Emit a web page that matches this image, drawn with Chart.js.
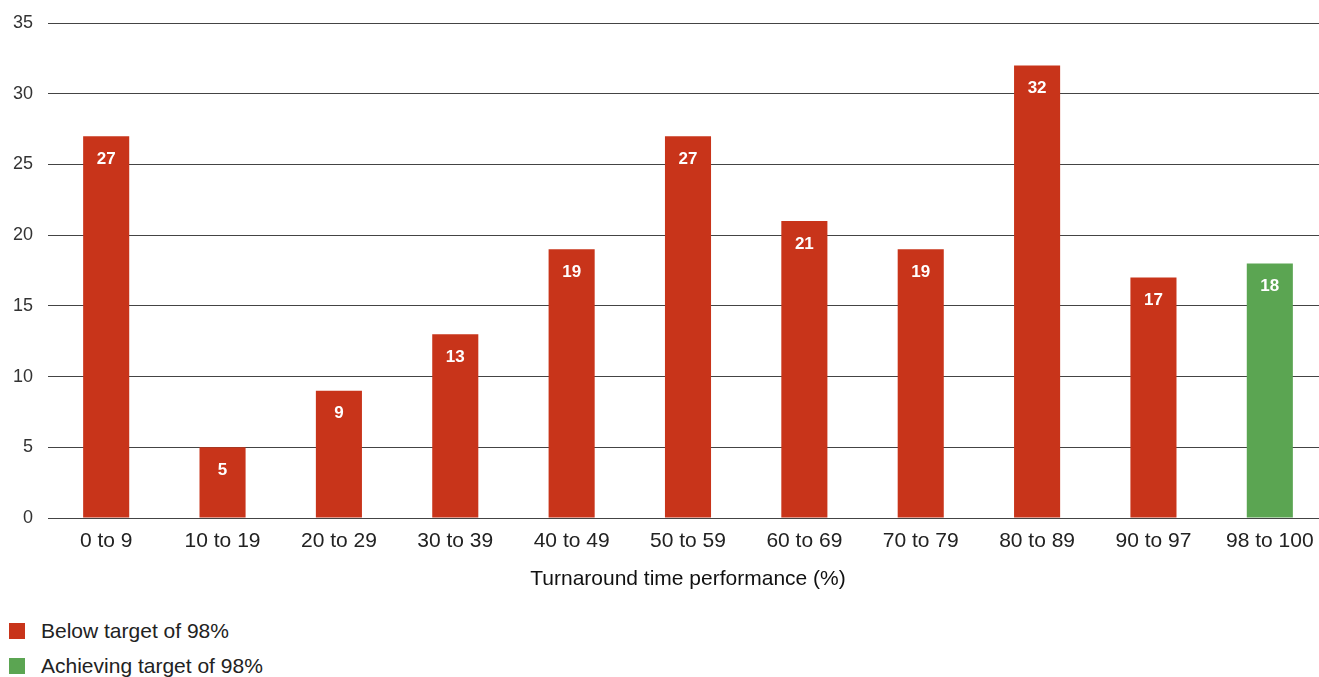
<!DOCTYPE html>
<html>
<head>
<meta charset="utf-8">
<script src="https://cdn.jsdelivr.net/npm/chart.js@4"></script>
<style>
  html, body { margin: 0; padding: 0; background: #fff; overflow: hidden; }
  body { width: 1319px; height: 677px; position: relative; font-family: "Liberation Sans", Arial, sans-serif; }
  #wrap { position: absolute; left: 0; top: 0; width: 1328px; height: 600px; }
  .leg { position: absolute; left: 9px; font-size: 21px; color: #222; line-height: 24px; height: 24px; }
  .leg span.sw { position: absolute; left: 0; top: 4px; width: 16px; height: 16px; }
  .leg span.tx { position: absolute; left: 32px; top: 0; white-space: nowrap; }
</style>
</head>
<body>
<div id="wrap"><canvas id="c" width="1328" height="600"></canvas></div>
<div id="legend"></div>
<script>
const categories = ["0 to 9","10 to 19","20 to 29","30 to 39","40 to 49","50 to 59","60 to 69","70 to 79","80 to 89","90 to 97","98 to 100"];
const belowTarget = [27, 5, 9, 13, 19, 27, 21, 19, 32, 17, null];
const achievingTarget = [null, null, null, null, null, null, null, null, null, null, 18];
const seriesNames = ["Below target of 98%", "Achieving target of 98%"];
const seriesColors = ["#C8341A", "#5BA552"];
const yTicks = [0, 5, 10, 15, 20, 25, 30, 35];
const xTitle = "Turnaround time performance (%)";

const FONT = '"Liberation Sans", Arial, sans-serif';

const labelPlugin = {
  id: 'barLabels',
  afterDatasetsDraw(chart) {
    const ctx = chart.ctx;
    ctx.save();
    ctx.fillStyle = '#fff';
    ctx.font = 'bold 17px ' + FONT;
    ctx.textAlign = 'center';
    ctx.textBaseline = 'middle';
    chart.data.datasets.forEach((ds, di) => {
      const meta = chart.getDatasetMeta(di);
      meta.data.forEach((el, i) => {
        const v = ds.data[i];
        if (v === null || v === undefined) return;
        ctx.fillText(String(v), el.x, el.y + 23);
      });
    });
    ctx.restore();
  }
};

new Chart(document.getElementById('c'), {
  type: 'bar',
  data: {
    labels: categories,
    datasets: [
      { label: seriesNames[0], data: belowTarget, backgroundColor: seriesColors[0], barPercentage: 0.396, categoryPercentage: 1.0 },
      { label: seriesNames[1], data: achievingTarget, backgroundColor: seriesColors[1], barPercentage: 0.396, categoryPercentage: 1.0 }
    ]
  },
  options: {
    responsive: false,
    animation: false,
    layout: { padding: { top: 23, right: 0, left: 0, bottom: 0 } },
    plugins: { legend: { display: false }, tooltip: { enabled: false } },
    scales: {
      x: {
        stacked: true,
        grid: { display: false, drawTicks: false },
        border: { display: false },
        ticks: { color: '#222', font: { size: 21, family: FONT }, padding: 11, maxRotation: 0 },
        title: { display: true, text: xTitle, color: '#111', font: { size: 21, family: FONT }, padding: { top: 4, bottom: 8 } },
        afterFit(s) { s.height = 82; s.paddingLeft = 0; s.paddingRight = 0; }
      },
      y: {
        stacked: true,
        min: 0, max: 35,
        afterBuildTicks(s) { s.ticks = yTicks.map(v => ({ value: v })); },
        grid: { color: '#444', lineWidth: 1, drawTicks: false },
        border: { display: false },
        ticks: { color: '#333', font: { size: 18, family: FONT }, padding: 15 },
        afterFit(s) { s.width = 48; s.paddingTop = 0; s.paddingBottom = 0; }
      }
    }
  },
  plugins: [labelPlugin]
});

const leg = document.getElementById('legend');
const tops = [619, 654];
seriesNames.forEach((n, i) => {
  const d = document.createElement('div');
  d.className = 'leg';
  d.style.top = tops[i] + 'px';
  d.innerHTML = '<span class="sw" style="background:' + seriesColors[i] + '"></span><span class="tx"></span>';
  d.querySelector('.tx').textContent = n;
  leg.appendChild(d);
});
</script>
</body>
</html>
